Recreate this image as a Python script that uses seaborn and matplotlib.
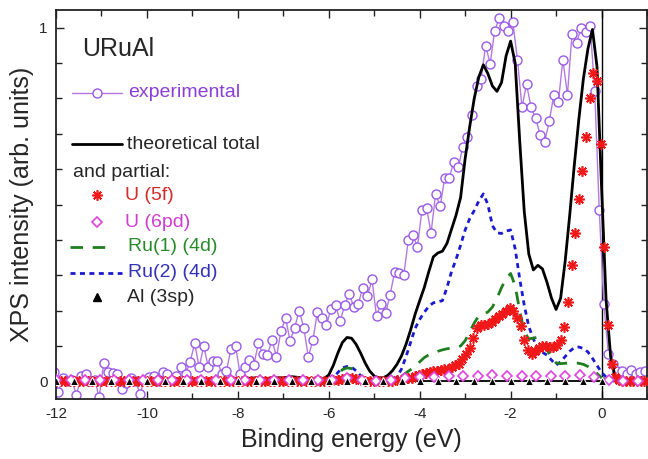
import matplotlib
matplotlib.use("Agg")
import matplotlib.pyplot as plt
import seaborn as sns
from matplotlib.ticker import MultipleLocator, FixedLocator
from matplotlib.lines import Line2D

sns.set_style("ticks")
plt.rcParams["font.family"] = ["Liberation Sans", "DejaVu Sans"]

# ---- experimental XPS valence-band spectrum ----
exp_energy = [
    -12.05, -11.95, -11.85, -11.75, -11.65, -11.55, -11.45, -11.35, -11.25, -11.15,
    -11.05, -10.95, -10.85, -10.75, -10.65, -10.55, -10.45, -10.35, -10.25, -10.15,
    -10.05, -9.95, -9.85, -9.75, -9.65, -9.55, -9.45, -9.35, -9.25, -9.15,
    -9.05, -8.95, -8.85, -8.75, -8.65, -8.55, -8.45, -8.35, -8.25, -8.15,
    -8.05, -7.95, -7.85, -7.75, -7.65, -7.55, -7.45, -7.35, -7.25, -7.15,
    -7.05, -6.95, -6.85, -6.75, -6.65, -6.55, -6.45, -6.35, -6.25, -6.15,
    -6.05, -5.95, -5.85, -5.75, -5.65, -5.55, -5.45, -5.35, -5.25, -5.15,
    -5.05, -4.95, -4.85, -4.75, -4.65, -4.55, -4.45, -4.35, -4.25, -4.15,
    -4.05, -3.95, -3.85, -3.75, -3.65, -3.55, -3.45, -3.35, -3.25, -3.15,
    -3.05, -2.95, -2.85, -2.75, -2.65, -2.55, -2.45, -2.35, -2.25, -2.15,
    -2.05, -1.95, -1.85, -1.75, -1.65, -1.55, -1.45, -1.35, -1.25, -1.15,
    -1.05, -0.95, -0.85, -0.75, -0.65, -0.55, -0.45, -0.35, -0.25, -0.15,
    -0.05, 0.05, 0.15, 0.25, 0.35, 0.45, 0.55, 0.65, 0.75, 0.85, 0.95,
]
exp_intensity = [
    0.025, -0.03, 0.01, 0.0, 0.005, -0.04, 0.015, 0.02, 0.0, 0.005,
    -0.045, 0.052, 0.026, 0.023, 0.02, -0.022, -0.005, 0.01, 0.0, -0.035,
    0.005, 0.012, 0.015, 0.0, 0.026, 0.022, 0.005, 0.015, 0.04, 0.02,
    0.055, 0.107, 0.04, 0.1, 0.04, 0.057, 0.057, 0.02, 0.03, 0.092,
    0.1, 0.02, 0.04, 0.06, 0.045, 0.107, 0.078, 0.075, 0.116, 0.07,
    0.143, 0.178, 0.114, 0.152, 0.2, 0.152, 0.069, 0.116, 0.196, 0.178,
    0.16, 0.205, 0.215, 0.17, 0.215, 0.248, 0.21, 0.22, 0.265, 0.24,
    0.288, 0.184, 0.22, 0.193, 0.245, 0.31, 0.305, 0.30, 0.40, 0.414,
    0.38, 0.485, 0.49, 0.42, 0.53, 0.495, 0.574, 0.576, 0.62, 0.605,
    0.664, 0.69, 0.754, 0.834, 0.855, 0.949, 0.898, 0.992, 1.027, 1.004,
    0.992, 1.015, 0.91, 0.775, 0.84, 0.775, 0.744, 0.697, 0.678, 0.735,
    0.81, 0.79, 0.91, 0.81, 0.983, 0.956, 1.0, 0.987, 1.006, 0.82,
    0.484, 0.22, 0.078, 0.05, 0.03, 0.03, 0.02, 0.031, 0.02, 0.025, 0.03,
]

# ---- calculated total DOS (broadened) ----
total_energy = [
    -12.0, -7.9, -7.8, -7.6, -7.4, -7.2, -7.0, -6.8, -6.6, -6.4, -6.2, -6.1,
    -6.0, -5.9, -5.8, -5.7, -5.6, -5.5, -5.4, -5.3, -5.2, -5.1,
    -5.0, -4.9, -4.8, -4.7, -4.6, -4.5, -4.4, -4.3, -4.2, -4.1,
    -4.0, -3.9, -3.8, -3.7, -3.6, -3.5, -3.4, -3.3, -3.2, -3.1,
    -3.0, -2.9, -2.8, -2.7, -2.6, -2.5, -2.4, -2.3, -2.2, -2.1,
    -2.0, -1.9, -1.8, -1.7, -1.6, -1.5, -1.4, -1.3, -1.2, -1.1,
    -1.0, -0.9, -0.8, -0.7, -0.6, -0.5, -0.4, -0.3, -0.2, -0.1,
    0.0, 0.1, 0.2, 0.3, 0.4, 1.0,
]
total_dos = [
    0.0, 0.0, 0.008, 0.01, 0.008, 0.01, 0.01, 0.013, 0.01, 0.008, 0.005, 0.008,
    0.018, 0.045, 0.08, 0.11, 0.124, 0.122, 0.105, 0.08, 0.052, 0.029,
    0.015, 0.01, 0.01, 0.017, 0.03, 0.048, 0.072, 0.105, 0.145, 0.19,
    0.228, 0.265, 0.31, 0.352, 0.363, 0.368, 0.39, 0.43, 0.47, 0.52,
    0.63, 0.72, 0.80, 0.86, 0.895, 0.87, 0.835, 0.82, 0.845, 0.92,
    0.962, 0.90, 0.68, 0.48, 0.36, 0.315, 0.328, 0.318, 0.28, 0.235,
    0.203, 0.235, 0.34, 0.47, 0.61, 0.74, 0.855, 0.94, 0.995, 0.89,
    0.55, 0.23, 0.07, 0.012, 0.0, 0.0,
]

# ---- Ru 4d partial DOS for the two ruthenium sites ----
ru_energy = [
    -12.0, -6.0, -5.9, -5.8, -5.7, -5.6, -5.5, -5.4, -5.3, -5.2, -5.1, -4.6,
    -4.5, -4.4, -4.3, -4.2, -4.1, -4.0, -3.9, -3.8, -3.7, -3.6,
    -3.5, -3.4, -3.3, -3.2, -3.1, -3.0, -2.9, -2.8, -2.7, -2.6,
    -2.5, -2.4, -2.3, -2.2, -2.1, -2.0, -1.9, -1.8, -1.7, -1.6,
    -1.5, -1.4, -1.3, -1.2, -1.1, -1.0, -0.9, -0.8, -0.7, -0.6,
    -0.5, -0.4, -0.3, -0.2, -0.1, 0.0, 0.1, 0.2, 0.3, 1.0,
]
ru1_dos = [
    0.0, 0.0, 0.008, 0.02, 0.033, 0.038, 0.036, 0.028, 0.016, 0.006, 0.0, 0.0,
    0.006, 0.014, 0.024, 0.033, 0.042, 0.055, 0.067, 0.075, 0.08, 0.085,
    0.089, 0.092, 0.094, 0.096, 0.1, 0.115, 0.14, 0.165, 0.185, 0.19,
    0.196, 0.21, 0.235, 0.265, 0.29, 0.305, 0.27, 0.2, 0.14, 0.12,
    0.122, 0.125, 0.11, 0.09, 0.065, 0.052, 0.05, 0.051, 0.052, 0.052,
    0.051, 0.048, 0.042, 0.034, 0.022, 0.01, 0.003, 0.0, 0.0, 0.0,
]
ru2_dos = [
    0.0, 0.0, 0.008, 0.025, 0.038, 0.042, 0.04, 0.03, 0.016, 0.006, 0.0, 0.0,
    0.012, 0.035, 0.07, 0.11, 0.15, 0.175, 0.195, 0.212, 0.222, 0.225,
    0.228, 0.265, 0.31, 0.345, 0.385, 0.428, 0.46, 0.483, 0.51, 0.53,
    0.5, 0.44, 0.42, 0.418, 0.425, 0.428, 0.375, 0.29, 0.215, 0.155,
    0.12, 0.092, 0.082, 0.074, 0.06, 0.046, 0.055, 0.07, 0.085, 0.095,
    0.097, 0.093, 0.083, 0.065, 0.045, 0.025, 0.012, 0.003, 0.0, 0.0,
]

# ---- U 5f partial DOS ----
u5f_energy = [
    -12.0, -11.9, -11.8, -11.7, -11.6, -11.5, -11.4, -11.3, -11.2, -11.1,
    -11.0, -10.9, -10.8, -10.7, -10.6, -10.5, -10.4, -10.3, -10.2, -10.1,
    -10.0, -9.9, -9.8, -9.7, -9.6, -9.5, -9.4, -9.3, -9.2, -9.1,
    -9.0, -8.9, -8.8, -8.7, -8.6, -8.5, -8.4, -8.3, -8.2, -8.1,
    -8.0, -7.9, -7.8, -7.7, -7.6, -7.5, -7.4, -7.3, -7.2, -7.1,
    -7.0, -6.9, -6.8, -6.7, -6.6, -6.5, -6.4, -6.3, -6.2, -6.1,
    -6.0, -5.9, -5.8, -5.7, -5.6, -5.5, -5.4, -5.3, -5.2, -5.1,
    -5.0, -4.9, -4.8, -4.7, -4.6,
    -4.5, -4.42, -4.34, -4.26, -4.18, -4.1, -4.02, -3.94, -3.86, -3.78,
    -3.7, -3.62, -3.54, -3.46, -3.38, -3.3, -3.22, -3.14, -3.06, -2.98,
    -2.9, -2.82, -2.74, -2.66, -2.58, -2.5, -2.42, -2.34, -2.26, -2.18,
    -2.1, -2.02, -1.94, -1.86, -1.78, -1.7, -1.62, -1.54, -1.46, -1.38,
    -1.3, -1.22, -1.14, -1.06, -0.98, -0.9, -0.82, -0.74, -0.66, -0.58,
    -0.5, -0.42, -0.34, -0.26, -0.18, -0.1, -0.02, 0.06, 0.14, 0.22,
    0.3, 0.38, 0.46, 0.54, 0.62, 0.7, 0.78, 0.86, 0.94,
]
u5f_dos = [
    0.0, 0.0, 0.0, 0.0, 0.0, 0.0, 0.0, 0.0, 0.0, 0.0,
    0.0, 0.0, 0.0, 0.0, 0.0, 0.0, 0.0, 0.0, 0.0, 0.0,
    0.0, 0.0, 0.0, 0.0, 0.0, 0.0, 0.0, 0.0, 0.0, 0.0,
    0.0, 0.0, 0.0, 0.0, 0.0, 0.0, 0.0, 0.0, 0.0, 0.0,
    0.0, 0.0, 0.001, 0.001, 0.001, 0.001, 0.001, 0.001, 0.001, 0.001,
    0.001, 0.001, 0.001, 0.001, 0.001, 0.001, 0.001, 0.001, 0.001, 0.002,
    0.002, 0.003, 0.004, 0.006, 0.008, 0.008, 0.006, 0.004, 0.002, 0.001,
    0.0, 0.0, 0.001, 0.001, 0.002,
    0.003, 0.005, 0.006, 0.008, 0.01, 0.014, 0.018, 0.021, 0.024, 0.026,
    0.028, 0.03, 0.032, 0.034, 0.036, 0.04, 0.045, 0.05, 0.062, 0.076,
    0.095, 0.122, 0.15, 0.158, 0.16, 0.162, 0.168, 0.176, 0.184, 0.19,
    0.2, 0.207, 0.2, 0.18, 0.156, 0.118, 0.088, 0.078, 0.085, 0.095,
    0.1, 0.1, 0.098, 0.097, 0.103, 0.118, 0.155, 0.225, 0.33, 0.42,
    0.515, 0.595, 0.69, 0.8, 0.873, 0.85, 0.67, 0.38, 0.16, 0.05,
    0.012, 0.004, 0.0, 0.0, 0.0, 0.0, 0.0, 0.0, 0.0,
]

# ---- U 6p+6d partial DOS ----
u6pd_energy = [
    -12.0, -11.68, -11.36, -11.04, -10.72, -10.4, -10.08, -9.76, -9.44, -9.12,
    -8.8, -8.48, -8.16, -7.84, -7.52, -7.2, -6.88, -6.56, -6.24, -5.92,
    -5.6, -5.28, -4.96, -4.64, -4.32, -4.0, -3.68, -3.36, -3.04, -2.72,
    -2.4, -2.08, -1.76, -1.44, -1.12, -0.8, -0.48, -0.16, 0.16, 0.48, 0.8,
]
u6pd_dos = [
    0.003, 0.003, 0.003, 0.003, 0.003, 0.003, 0.003, 0.003, 0.003, 0.003,
    0.003, 0.003, 0.003, 0.003, 0.003, 0.003, 0.003, 0.003, 0.003, 0.003,
    0.008, 0.004, 0.002, 0.005, 0.008, 0.012, 0.013, 0.015, 0.015, 0.016,
    0.018, 0.016, 0.015, 0.015, 0.016, 0.016, 0.018, 0.012, 0.004, 0.002, 0.002,
]

# ---- Al 3s+3p partial DOS ----
al_energy = [
    -12.0, -11.6, -11.2, -10.8, -10.4, -10.0, -9.6, -9.2, -8.8, -8.4,
    -8.0, -7.6, -7.2, -6.8, -6.4, -6.0, -5.6, -5.2, -4.8, -4.4,
    -4.0, -3.6, -3.2, -2.8, -2.4, -2.0, -1.6, -1.2, -0.8, -0.4, 0.0,
]
al_dos = [
    0.0, 0.0, 0.0, 0.0, 0.0, 0.0, 0.0, 0.0, 0.0, 0.0,
    0.0, 0.0, 0.0, 0.0, 0.0, 0.0, 0.0, 0.0, 0.0, 0.0,
    0.0, 0.0, 0.0, 0.0, 0.0, 0.0, 0.0, 0.0, 0.0, 0.0, 0.0,
]

x_ticks = [-12, -10, -8, -6, -4, -2, 0]
x_tick_labels = ["-12", "-10", "-8", "-6", "-4", "-2", "0"]
y_ticks = [0, 1]
y_tick_labels = ["0", "1"]

C_EXP = "#9a5ae6"
C_EXP_LINE = "#b27ae0"
C_U5F = "#f01818"
C_U6PD = "#dd44dd"
C_RU1 = "#1f7f1f"
C_RU2 = "#1a1ad0"
STAR = (8, 2, 0)
STAR_SIZE = 7.5
STAR_EW = 1.2

fig = plt.figure(figsize=(6.48, 4.59), dpi=100)
ax = fig.add_axes([56 / 648, 60 / 459, 591 / 648, 389 / 459])

ax.axhline(0, color="black", lw=1.3, zorder=1)
ax.axvline(0, color="black", lw=1.0, zorder=1)

common = dict(ax=ax, sort=False, estimator=None, legend=False)

sns.lineplot(x=exp_energy, y=exp_intensity, color=C_EXP_LINE, lw=1.0,
             marker="o", markersize=6.5, markerfacecolor="white",
             markeredgecolor=C_EXP, markeredgewidth=1.0, zorder=2, **common)
sns.lineplot(x=total_energy, y=total_dos, color="black", lw=2.0, zorder=3, **common)
sns.lineplot(x=ru_energy, y=ru2_dos, color=C_RU2, lw=2.0, dashes=(1.8, 1.6),
             zorder=3, **common)
sns.lineplot(x=ru_energy, y=ru1_dos, color=C_RU1, lw=2.0, dashes=(4.5, 3.5),
             zorder=3, **common)
sns.lineplot(x=u5f_energy, y=u5f_dos, color=C_U5F, linestyle="", marker=STAR,
             markersize=STAR_SIZE, markeredgecolor=C_U5F,
             markeredgewidth=STAR_EW, zorder=4, **common)
sns.lineplot(x=u6pd_energy, y=u6pd_dos, color=C_U6PD, linestyle="", marker="D",
             markersize=5, markerfacecolor="white", markeredgecolor=C_U6PD,
             markeredgewidth=1.2, zorder=5, **common)
sns.lineplot(x=al_energy, y=al_dos, color="black", linestyle="", marker="^",
             markersize=6, zorder=6, **common)

ax.set_xlim(-12, 1)
ax.set_ylim(-0.05, 1.05)
ax.xaxis.set_major_locator(FixedLocator(x_ticks))
ax.set_xticklabels(x_tick_labels)
ax.xaxis.set_minor_locator(MultipleLocator(1))
ax.yaxis.set_major_locator(FixedLocator(y_ticks))
ax.set_yticklabels(y_tick_labels)
ax.yaxis.set_minor_locator(MultipleLocator(0.1))
ax.tick_params(which="both", direction="in", top=True, right=True,
               color="#222222", width=1.0)
ax.tick_params(which="major", length=6, labelsize=11, pad=6)
ax.tick_params(which="minor", length=4)
for s in ax.spines.values():
    s.set_linewidth(1.3)
    s.set_color("#222222")

ax.set_xlabel("Binding energy (eV)", fontsize=18, labelpad=5)
ax.set_ylabel("XPS intensity (arb. units)", fontsize=18, labelpad=4)

# ---- key drawn inside the axes ----
T = ax.transAxes
ax.text(0.045, 0.90, "URuAl", transform=T, fontsize=18, va="center", ha="left")

def key_line(x0, x1, y, **kw):
    ax.add_line(Line2D([x0, x1], [y, y], transform=T, **kw))

def key_mark(x, y, **kw):
    ax.add_line(Line2D([x], [y], transform=T, linestyle="", **kw))

key_line(0.027, 0.112, 0.787, color=C_EXP_LINE, lw=1.0)
key_mark(0.069, 0.787, marker="o", markersize=6.5, markerfacecolor="white",
         markeredgecolor=C_EXP, markeredgewidth=1.0)
ax.text(0.122, 0.787, "experimental", transform=T, fontsize=14, color="#8a3fd6",
        va="center")

key_line(0.027, 0.112, 0.6555, color="black", lw=2.0)
ax.text(0.120, 0.6555, "theoretical total", transform=T, fontsize=14, va="center")

ax.text(0.029, 0.5835, "and partial:", transform=T, fontsize=14, va="center")

key_mark(0.069, 0.524, marker=STAR, markersize=STAR_SIZE, color=C_U5F,
         markeredgecolor=C_U5F, markeredgewidth=STAR_EW)
ax.text(0.117, 0.524, "U (5f)", transform=T, fontsize=14, color="#d42a2a",
        va="center")

key_mark(0.069, 0.455, marker="D", markersize=5, markerfacecolor="white",
         markeredgecolor=C_U6PD, markeredgewidth=1.2)
ax.text(0.117, 0.455, "U (6pd)", transform=T, fontsize=14, color="#d03cd0",
        va="center")

key_line(0.024, 0.096, 0.391, color=C_RU1, lw=2.0, dashes=(4.5, 3.5))
ax.text(0.122, 0.391, "Ru(1) (4d)", transform=T, fontsize=14, color="#2a8a2a",
        va="center")

key_line(0.024, 0.112, 0.324, color=C_RU2, lw=2.0, dashes=(1.8, 1.6))
ax.text(0.122, 0.324, "Ru(2) (4d)", transform=T, fontsize=14, color="#3232b8",
        va="center")

key_mark(0.069, 0.262, marker="^", markersize=6, color="black")
ax.text(0.120, 0.262, "Al (3sp)", transform=T, fontsize=14, va="center")

fig.savefig("out.png", dpi=100)
